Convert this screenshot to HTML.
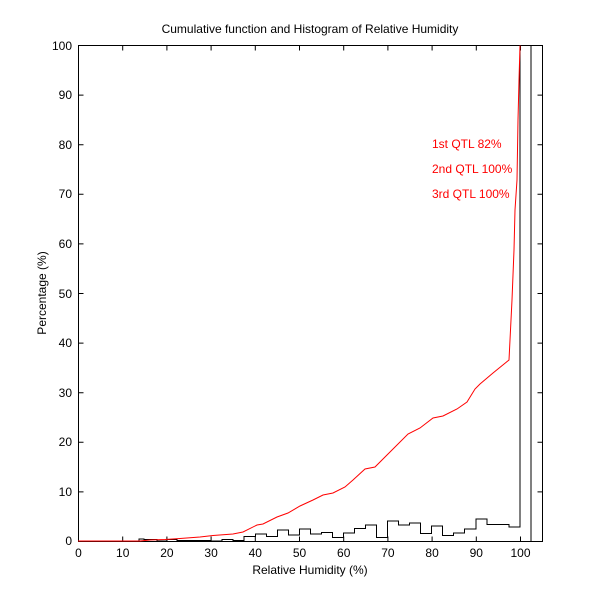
<!DOCTYPE html>
<html><head><style>body{margin:0;background:#fff}svg{display:block}text{font-family:"Liberation Sans",sans-serif;font-size:12px}</style></head><body>
<svg width="600" height="610" viewBox="0 0 600 610">
<rect width="600" height="610" fill="#fff"/>
<text x="310" y="33" text-anchor="middle">Cumulative function and Histogram of Relative Humidity</text>
<g stroke="#000" fill="none" stroke-width="1">
<rect x="78.5" y="45.5" width="464" height="496"/>
<path d="M78.5 541.5h5M78.5 491.9h5M78.5 442.3h5M78.5 392.7h5M78.5 343.1h5M78.5 293.5h5M78.5 243.9h5M78.5 194.3h5M78.5 144.7h5M78.5 95.1h5M78.5 45.5h5
M542.5 491.9h-5M542.5 442.3h-5M542.5 392.7h-5M542.5 343.1h-5M542.5 293.5h-5M542.5 243.9h-5M542.5 194.3h-5M542.5 144.7h-5M542.5 95.1h-5
M122.7 541.5v-5M166.9 541.5v-5M211.1 541.5v-5M255.3 541.5v-5M299.5 541.5v-5M343.7 541.5v-5M387.9 541.5v-5M432.1 541.5v-5M476.3 541.5v-5M520.5 541.5v-5
M122.7 45.5v5M166.9 45.5v5M211.1 45.5v5M255.3 45.5v5M299.5 45.5v5M343.7 45.5v5M387.9 45.5v5M432.1 45.5v5M476.3 45.5v5M520.5 45.5v5"/>
<polyline points="139,541 139,539 144,539 144,539.5 157,539.5 157,541 167,541 167,539.5 177,539.5 177,540.5 211,540.5 211,541 222,541 222,539.5 233,539.5 233,540.5 244,540.5 244,536.5 255.5,536.5 255.5,534 266.5,534 266.5,536.5 277.5,536.5 277.5,530 288.5,530 288.5,535 299.5,535 299.5,529 310.5,529 310.5,534 321.5,534 321.5,532.5 332.5,532.5 332.5,537.5 343.5,537.5 343.5,533 354.5,533 354.5,528.5 365.5,528.5 365.5,525 376.5,525 376.5,537.5 387.5,537.5 387.5,521 398.5,521 398.5,525 409.5,525 409.5,523 420.5,523 420.5,533.5 431.5,533.5 431.5,526 442.5,526 442.5,535.5 453.5,535.5 453.5,533 464.5,533 464.5,529 476,529 476,519 487,519 487,524.5 509,524.5 509,527 520,527 520,45.5 531,45.5 531,541.5"/>
</g>
<polyline fill="none" stroke="#f00" stroke-width="1" points="78,541 140,541 150,540 165,539.5 180,538.5 200,537 213,535.5 233,534 243,532 257,525 263,524 277,517 288,513 300,506 313,500 323,495 333,493 345,487 353,480 365,469 375,467 382,460 408,434 420,428 433,418 443,416 457,409 467,402 475,389 480,384 493,373 509,360 510,340 512,300 514,250 515,210 517,180 518,120 519,80 520,45.5"/>
<g fill="#f00">
<text x="432" y="148">1st QTL  82%</text>
<text x="432" y="173">2nd QTL 100%</text>
<text x="432" y="198">3rd QTL 100%</text>
</g>
<g text-anchor="end">
<text x="72" y="545">0</text><text x="72" y="496">10</text><text x="72" y="446">20</text><text x="72" y="397">30</text><text x="72" y="347">40</text><text x="72" y="298">50</text><text x="72" y="248">60</text><text x="72" y="198">70</text><text x="72" y="149">80</text><text x="72" y="99">90</text><text x="72" y="50">100</text>
</g>
<g text-anchor="middle">
<text x="78.5" y="557">0</text><text x="122.7" y="557">10</text><text x="166.9" y="557">20</text><text x="211.1" y="557">30</text><text x="255.3" y="557">40</text><text x="299.5" y="557">50</text><text x="343.7" y="557">60</text><text x="387.9" y="557">70</text><text x="432.1" y="557">80</text><text x="476.3" y="557">90</text><text x="520.5" y="557">100</text>
<text x="310" y="574">Relative Humidity (%)</text>
<text transform="translate(46 293) rotate(-90)">Percentage (%)</text>
</g>
</svg>
</body></html>
